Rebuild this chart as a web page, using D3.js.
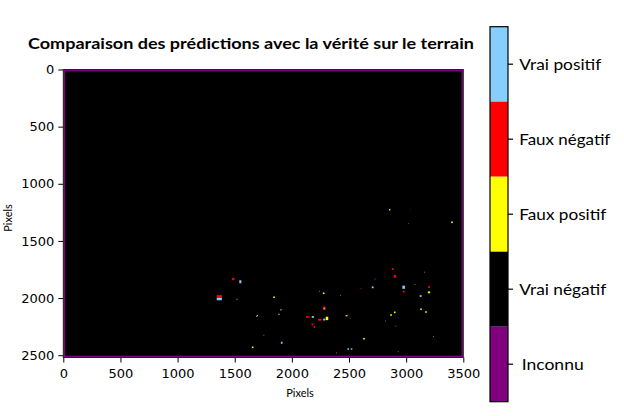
<!DOCTYPE html>
<html><head><meta charset="utf-8">
<script src="https://cdn.jsdelivr.net/npm/d3@7"></script>
<style>body{margin:0;background:#fff}svg{display:block}</style>
</head><body>
<svg id="c" width="624" height="416"></svg>
<script>
// ---- data (image pixel coordinates: [x, y, width, height]) ----
const imageWidth = 3500, imageHeight = 2520, borderWidth = 16;
const xTicks = [0, 500, 1000, 1500, 2000, 2500, 3000, 3500];
const yTicks = [0, 500, 1000, 1500, 2000, 2500];
const categories = ["Vrai positif", "Faux négatif", "Faux positif", "Vrai négatif", "Inconnu"];
const categoryColors = ["#87cefa", "#ff0000", "#ffff00", "#000000", "#800080"];

const vraiPositif = [
  [1549,1857,18,26],[1365,2008,45,22],[1698,2154,12,12],[1903,2104,10,10],
  [2284,2092,12,12],[2183,2165,18,16],[2283,2188,18,16],[2478,2154,16,12],
  [1911,2391,14,18],[2493,2446,14,12],[2522,2446,14,12],[2707,1906,16,16],
  [2978,1905,22,28],[3127,1982,16,16]
];
const fauxNegatif = [
  [1487,1833,20,20],[1365,1985,45,22],[2284,2088,22,30],[2140,2165,32,14],
  [2180,2230,14,16],[2196,2252,14,16],[2245,2190,30,16],[2490,2150,12,10],
  [2605,1915,8,8],[2882,1746,16,16],[2902,1810,20,24],[2978,1944,16,16],
  [3200,1903,16,16],[1910,2099,10,10],[3036,1227,5,5]
];
const fauxPositif = [
  [1844,1993,14,14],[1520,2010,8,8],[1887,2142,10,10],[2278,1958,14,14],
  [2307,2178,22,30],[3200,1950,20,16],[3130,2098,14,14],[3174,2122,14,14],
  [2900,2125,14,14],[2868,2148,14,14],[1657,2431,14,14],[2631,2356,14,14],
  [2856,1227,12,12],[3401,1337,14,14],
  [1690,2160,6,6],[2240,1940,6,6],[2427,1975,6,6],[2510,2175,6,6],
  [1755,2325,6,6],[2727,1833,6,6],[2820,2200,6,6],[2910,2245,6,6],
  [3240,2335,6,6],[3077,1882,6,6],[2390,2480,6,6],[2930,2470,6,6],
  [3020,1350,5,5],[3160,1773,6,6]
];
const title = "Comparaison des prédictions avec la vérité sur le terrain";
const xLabel = "Pixels", yLabel = "Pixels";

// ---- layout ----
const svg = d3.select("#c");
const plot = {left: 63.3, right: 463.3, top: 69.5, bottom: 357.5};
const x = d3.scaleLinear().domain([0, imageWidth]).range([plot.left, plot.right]);
const y = d3.scaleLinear().domain([0, imageHeight]).range([plot.top, plot.bottom]);
const classColor = d3.scaleOrdinal().domain(categories).range(categoryColors);

// image background: unknown border, true-negative interior
svg.append("rect").attr("x", x(0)).attr("y", y(0))
  .attr("width", x(imageWidth) - x(0)).attr("height", y(imageHeight) - y(0))
  .attr("fill", classColor("Inconnu"));
svg.append("rect").attr("x", x(borderWidth)).attr("y", y(borderWidth))
  .attr("width", x(imageWidth - borderWidth) - x(borderWidth))
  .attr("height", y(imageHeight - borderWidth) - y(borderWidth))
  .attr("fill", classColor("Vrai négatif"));

function drawPatches(data, cls) {
  svg.append("g").selectAll("rect").data(data).join("rect")
    .attr("x", d => x(d[0] - d[2] / 2)).attr("y", d => y(d[1] - d[3] / 2))
    .attr("width", d => x(d[2]) - x(0)).attr("height", d => y(d[3]) - y(0))
    .attr("fill", classColor(cls));
}
drawPatches(fauxPositif, "Faux positif");
drawPatches(fauxNegatif, "Faux négatif");
drawPatches(vraiPositif, "Vrai positif");

// axes
const tickFont = "'DejaVu Sans', sans-serif";
const gx = svg.append("g").attr("transform", `translate(0,${plot.bottom})`)
  .call(d3.axisBottom(x).tickValues(xTicks).tickSize(5).tickPadding(6).tickFormat(d3.format("d")));
const gy = svg.append("g").attr("transform", `translate(${plot.left},0)`)
  .call(d3.axisLeft(y).tickValues(yTicks).tickSize(5).tickPadding(4).tickFormat(d3.format("d")));
[gx, gy].forEach(g => {
  g.select(".domain").remove();
  g.selectAll("text").attr("font-family", tickFont).attr("font-size", 13).attr("fill", "#000");
  g.selectAll("line").attr("stroke", "#000").attr("stroke-width", 1);
});
svg.append("rect").attr("x", plot.left).attr("y", plot.top)
  .attr("width", plot.right - plot.left).attr("height", plot.bottom - plot.top)
  .attr("fill", "none").attr("stroke", "#222").attr("stroke-width", 1);

// labels
const labelFont = "Lato, 'Open Sans', sans-serif";
svg.append("text").attr("x", 300).attr("y", 397).attr("text-anchor", "middle")
  .attr("font-family", labelFont).attr("font-size", 11).text(xLabel);
svg.append("text").attr("transform", "translate(12,218) rotate(-90)").attr("text-anchor", "middle")
  .attr("font-family", labelFont).attr("font-size", 11).text(yLabel);
svg.append("text").attr("x", 251).attr("y", 49).attr("text-anchor", "middle")
  .attr("font-family", labelFont).attr("font-weight", "bold").attr("font-size", 16)
  .attr("textLength", 446).attr("lengthAdjust", "spacingAndGlyphs").text(title);

// colorbar
const cb = {left: 490, right: 508, top: 26.7, bottom: 401.7};
const cy = d3.scaleBand().domain(categories).range([cb.top, cb.bottom]);
svg.append("g").selectAll("rect").data(categories).join("rect")
  .attr("x", cb.left).attr("y", d => cy(d)).attr("width", cb.right - cb.left)
  .attr("height", cy.bandwidth()).attr("fill", d => classColor(d));
svg.append("rect").attr("x", cb.left).attr("y", cb.top)
  .attr("width", cb.right - cb.left).attr("height", cb.bottom - cb.top)
  .attr("fill", "none").attr("stroke", "#000").attr("stroke-width", 1.2);
const labelWidths = {"Vrai positif": 82, "Faux négatif": 91, "Faux positif": 87, "Vrai négatif": 87, "Inconnu": 62};
const cbTicks = svg.append("g").selectAll("g").data(categories).join("g")
  .attr("transform", d => `translate(${cb.right},${cy(d) + cy.bandwidth() / 2})`);
cbTicks.append("line").attr("x1", 0).attr("x2", 5).attr("stroke", "#000").attr("stroke-width", 1.2);
cbTicks.append("text").attr("x", d => d === "Inconnu" ? 13.7 : 11.3).attr("dy", "0.35em")
  .attr("font-family", labelFont).attr("font-size", 16)
  .attr("textLength", d => labelWidths[d]).attr("lengthAdjust", "spacingAndGlyphs")
  .text(d => d);
</script>
</body></html>
